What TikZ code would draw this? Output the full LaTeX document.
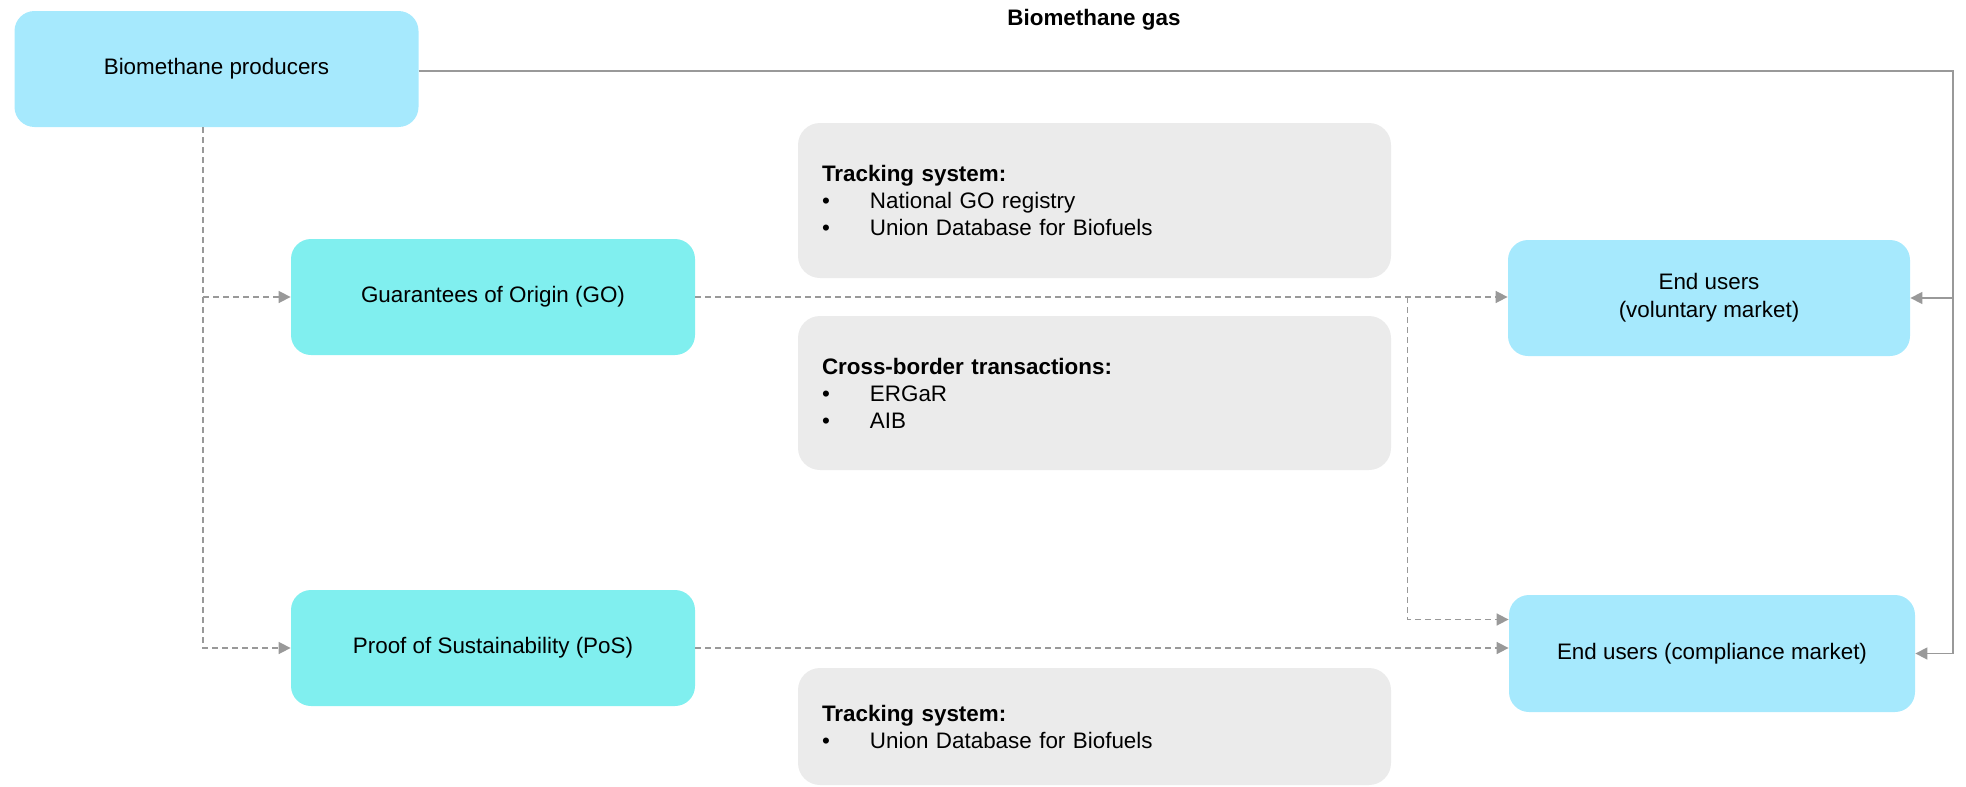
\documentclass[tikz,border=0pt]{standalone}
\usepackage{fontspec}
\setmainfont{Liberation Sans}
\usetikzlibrary{arrows.meta}
\definecolor{prodblue}{HTML}{A6E9FD}
\definecolor{certcyan}{HTML}{80EFEF}
\definecolor{infogray}{HTML}{EBEBEB}
\definecolor{wire}{HTML}{999999}
\newcommand{\itm}[1]{\makebox[24pt][l]{\textbullet}#1}
\begin{document}
\begin{tikzpicture}[x=0.5pt,y=-0.5pt,
    font=\fontsize{11.2}{14}\selectfont,
    box/.style={rectangle,rounded corners=10pt,minimum width=202pt,minimum height=58pt,align=center,inner sep=0pt},
    info/.style={rectangle,rounded corners=11pt,fill=infogray,minimum width=296.5pt,text width=272.5pt,align=left,inner xsep=12pt,font=\fontsize{11.2}{13.5}\selectfont},
    flow/.style={color=wire,line width=0.8pt,-{Triangle[length=6pt,width=6pt]}},
    dflow/.style={flow,dash pattern=on 3pt off 2pt}]
        \useasboundingbox (0,0) rectangle (1966,787);
        \node [font=\bfseries\fontsize{11.2}{14}\selectfont] (title) at (1094,20) {Biomethane gas};
        \node [box,fill=prodblue] (prod) at (216.5,69) {Biomethane producers};
        \node [box,fill=certcyan] (go) at (493,297) {Guarantees of Origin (GO)};
        \node [box,fill=certcyan] (pos) at (493,648) {Proof of Sustainability (PoS)};
        \node [box,fill=prodblue,minimum width=201pt] (vol) at (1709,298) {End users\\(voluntary market)};
        \node [box,fill=prodblue,minimum width=203pt,minimum height=58.5pt] (comp) at (1712,653.5) {End users (compliance market)};
        \node [info,minimum height=77.5pt] (trackgo) at (1094.5,200.5) {\textbf{Tracking system:}\\\itm{National GO registry}\\\itm{Union Database for Biofuels}};
        \node [info,minimum height=77pt] (cross) at (1094.5,393) {\textbf{Cross-border transactions:}\\\itm{ERGaR}\\\itm{AIB}};
        \node [info,minimum height=58.5pt] (trackpos) at (1094.5,726.5) {\textbf{Tracking system:}\\\itm{Union Database for Biofuels}};
        % physical gas
        \coordinate (rbus) at (1953,71);
        \draw [flow] (prod.east |- rbus) -- (rbus) |- (comp.east);
        \draw [flow] (rbus |- vol.east) -- (vol.east);
        % certificates
        \coordinate (split) at (203,127);
        \draw [dflow] (split) |- (pos.west);
        \draw [dflow] (split |- go.west) -- (go.west);
        \draw [dflow] (go.east) -- (go.east -| vol.west);
        \coordinate (gobranch) at (1407.5,297);
        \draw [dflow] (gobranch) |- ([yshift=17pt]comp.west);
        \draw [dflow] (pos.east) -- (pos.east -| comp.west);
    \end{tikzpicture}
\end{document}
